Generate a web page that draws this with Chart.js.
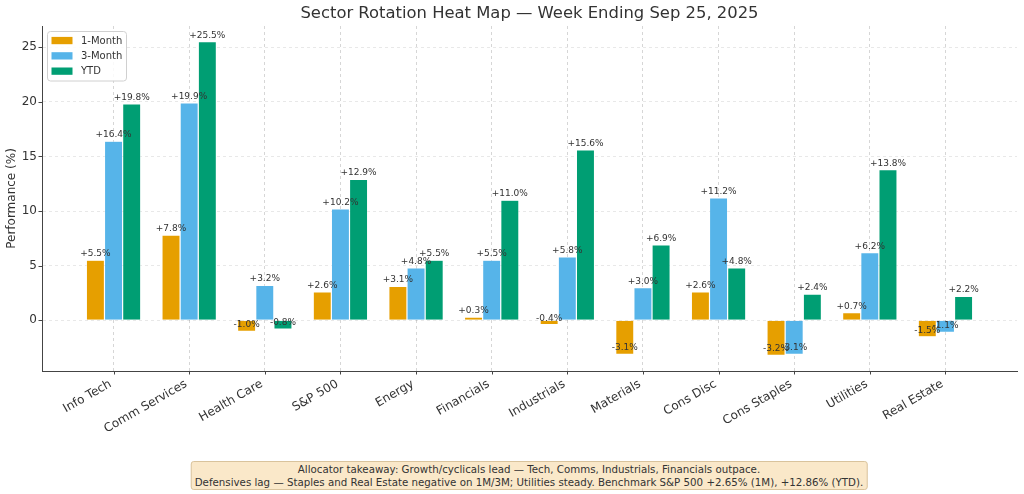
<!DOCTYPE html>
<html>
<head>
<meta charset="utf-8">
<script src="https://cdn.jsdelivr.net/npm/chart.js@4.4.1/dist/chart.umd.min.js"></script>
<style>
  html, body { margin: 0; padding: 0; background: #fff; }
  #wrap { position: relative; width: 1024px; height: 494px; }
  #note {
    position: absolute; left: 529px; top: 461px; transform: translateX(-50%);
    background: #fae8c9; border: 1px solid #d9c39c; border-radius: 3px;
    font: 10.25px "DejaVu Sans", sans-serif; color: #333; text-align: center;
    padding: 1px 3px; line-height: 12.5px; white-space: nowrap;
  }
</style>
</head>
<body>
<div id="wrap">
  <canvas id="sectorChart" width="1024" height="494"></canvas>
  <div id="note">Allocator takeaway: Growth/cyclicals lead — Tech, Comms, Industrials, Financials outpace.<br>Defensives lag — Staples and Real Estate negative on 1M/3M; Utilities steady. Benchmark S&amp;P 500 +2.65% (1M), +12.86% (YTD).</div>
</div>
<script>
const sectors = ['Info Tech', 'Comm Services', 'Health Care', 'S&P 500', 'Energy', 'Financials',
    'Industrials', 'Materials', 'Cons Disc', 'Cons Staples', 'Utilities', 'Real Estate'];
const oneMonth = [5.5, 7.8, -1.0, 2.6, 3.1, 0.3, -0.4, -3.1, 2.6, -3.2, 0.7, -1.5];
const threeMonth = [16.4, 19.9, 3.2, 10.2, 4.8, 5.5, 5.8, 3.0, 11.2, -3.1, 6.2, -1.1];
const ytd = [19.8, 25.5, -0.8, 12.9, 5.5, 11.0, 15.6, 6.9, 4.8, 2.4, 13.8, 2.2];
const yTicks = [0, 5, 10, 15, 20, 25];

const seriesNames = ['1-Month', '3-Month', 'YTD'];
const seriesColors = ['#E69F00', '#56B4E9', '#009E73'];
const FONT = '"DejaVu Sans", sans-serif';

function toPoints(arr) {
    return arr.map((v, i) => ({ x: i, y: v }));
}

// title, axis labels, tick marks, legend box and value labels
const decorations = {
    id: 'decorations',
    afterDatasetsDraw(chart) {
        const ctx = chart.ctx;
        const area = chart.chartArea;
        const xs = chart.scales.x, ys = chart.scales.y;
        ctx.save();

        // value labels
        ctx.font = '9px ' + FONT;
        ctx.fillStyle = '#333';
        ctx.textAlign = 'center';
        ctx.textBaseline = 'alphabetic';
        chart.data.datasets.forEach((ds, di) => {
            chart.getDatasetMeta(di).data.forEach((bar, i) => {
                const v = ds.data[i].y;
                const txt = (v >= 0 ? '+' : '') + v.toFixed(1) + '%';
                ctx.fillText(txt, bar.x, bar.y - 4);
            });
        });

        // tick marks
        ctx.strokeStyle = '#444';
        ctx.lineWidth = 1;
        ctx.beginPath();
        sectors.forEach((s, i) => {
            const px = Math.round(xs.getPixelForValue(i)) + 0.5;
            ctx.moveTo(px, area.bottom);
            ctx.lineTo(px, area.bottom + 3.5);
        });
        yTicks.forEach(v => {
            const py = Math.round(ys.getPixelForValue(v)) + 0.5;
            ctx.moveTo(area.left, py);
            ctx.lineTo(area.left - 3.5, py);
        });
        ctx.stroke();

        // rotated category labels, right/top aligned like the original
        ctx.font = '12px ' + FONT;
        ctx.fillStyle = '#333';
        ctx.textAlign = 'right';
        ctx.textBaseline = 'top';
        sectors.forEach((s, i) => {
            const px = xs.getPixelForValue(i);
            ctx.save();
            ctx.translate(px - 6, area.bottom + 7);
            ctx.rotate(-Math.PI / 6);
            ctx.fillText(s, 0, 0);
            ctx.restore();
        });

        // title
        ctx.font = '16.4px ' + FONT;
        ctx.textAlign = 'center';
        ctx.textBaseline = 'middle';
        ctx.fillText('Sector Rotation Heat Map — Week Ending Sep 25, 2025', (area.left + area.right) / 2, 14);

        // y axis title
        ctx.save();
        ctx.translate(12, (area.top + area.bottom) / 2);
        ctx.rotate(-Math.PI / 2);
        ctx.font = '12px ' + FONT;
        ctx.fillText('Performance (%)', 0, 0);
        ctx.restore();

        // legend
        const lx = area.left + 5.5, ly = area.top + 5.5, lw = 79, lh = 49.5;
        ctx.beginPath();
        ctx.roundRect(lx, ly, lw, lh, 3);
        ctx.fillStyle = 'rgba(255,255,255,0.85)';
        ctx.fill();
        ctx.strokeStyle = '#d0d0d0';
        ctx.lineWidth = 1;
        ctx.stroke();
        ctx.font = '10px ' + FONT;
        ctx.textAlign = 'left';
        seriesNames.forEach((name, i) => {
            const cy = ly + 9 + i * 15.3;
            ctx.fillStyle = seriesColors[i];
            ctx.fillRect(lx + 4, cy - 3.6, 21, 7.3);
            ctx.fillStyle = '#333';
            ctx.fillText(name, lx + 33.5, cy + 0.5);
        });

        ctx.restore();
    }
};

new Chart(document.getElementById('sectorChart'), {
    type: 'bar',
    data: {
        datasets: [
            { label: seriesNames[0], data: toPoints(oneMonth), backgroundColor: seriesColors[0] },
            { label: seriesNames[1], data: toPoints(threeMonth), backgroundColor: seriesColors[1] },
            { label: seriesNames[2], data: toPoints(ytd), backgroundColor: seriesColors[2] }
        ]
    },
    options: {
        responsive: false,
        animation: false,
        layout: { padding: { top: 26, right: 7, left: 0, bottom: 0 } },
        datasets: {
            bar: {
                categoryPercentage: 0.72,
                barPercentage: 1.0,
                borderWidth: 0.6,
                borderColor: 'rgba(255,255,255,0.5)'
            }
        },
        plugins: {
            legend: { display: false },
            title: { display: false },
            tooltip: { enabled: false }
        },
        scales: {
            x: {
                type: 'linear',
                offset: false,
                min: -0.946,
                max: 11.946,
                afterBuildTicks: (scale) => { scale.ticks = sectors.map((s, i) => ({ value: i })); },
                afterFit: (scale) => { scale.height = 123; },
                ticks: { display: false },
                grid: { offset: false, color: 'rgba(0,0,0,0.16)', drawTicks: false },
                border: { display: true, color: '#444', width: 1, dash: [3, 3] }
            },
            y: {
                min: -4.635,
                max: 26.935,
                afterBuildTicks: (scale) => { scale.ticks = yTicks.map(v => ({ value: v })); },
                afterFit: (scale) => { scale.width = 42; },
                ticks: {
                    padding: 5,
                    color: '#333',
                    font: { family: FONT, size: 12 }
                },
                grid: { color: 'rgba(0,0,0,0.09)', drawTicks: false },
                border: { display: true, color: '#444', width: 1, dash: [3, 3] }
            }
        }
    },
    plugins: [decorations]
});
</script>
</body>
</html>
